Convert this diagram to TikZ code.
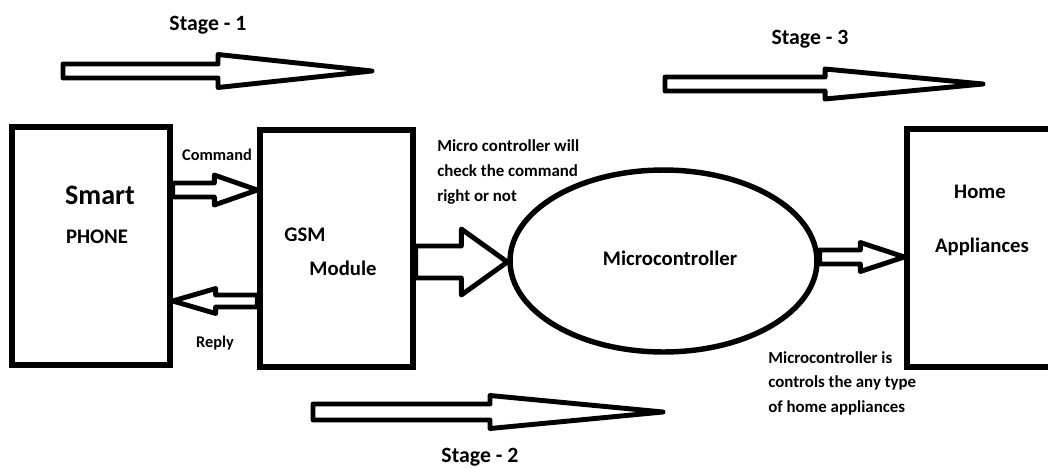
\documentclass[tikz,border=0pt]{standalone}
\usepackage{fontspec}
\setmainfont{Carlito}
\usetikzlibrary{calc,shapes.geometric}

\tikzset{
  blk/.style={draw, line width=3.1pt, inner sep=0pt},
  barrow/.style={draw, line width=2.8pt, line join=round, fill=white},
  txt/.style={font=\bfseries\fontsize{11.8}{13}\selectfont, inner sep=0pt},
  note/.style={font=\bfseries\fontsize{9.6}{14}\selectfont, inner sep=0pt, align=left},
}
% hollow block arrow: start, tip, shaft half, head half, head length
\newcommand{\blockarrow}[5]{%
  \draw[barrow] let \p1=#1, \p2=#2 in
    (\x1,{\y1+#3}) -- ({\x2-(#5)},{\y1+#3}) -- ({\x2-(#5)},{\y1+#4}) -- (\x2,\y1)
    -- ({\x2-(#5)},{\y1-#4}) -- ({\x2-(#5)},{\y1-#3}) -- (\x1,{\y1-#3}) -- cycle;}

\begin{document}
\begin{tikzpicture}[x=0.02cm,y=-0.02cm]
      \useasboundingbox (0,0) rectangle (1048,467);
      \clip (0,0) rectangle (1048,467);
      % blocks
      \node[blk, minimum width=3.16cm, minimum height=4.76cm] (phone) at (91,246) {};
      \node[blk, minimum width=3.06cm, minimum height=4.74cm] (gsm) at (336.5,248.5) {};
      \node[blk, minimum width=3.26cm, minimum height=4.76cm] (home) at (988.5,248) {};
      \node[blk, ellipse, minimum width=6.14cm, minimum height=3.64cm] (mcu) at (663.5,261) {};
      \node[txt] (mcutext) at (670,258) {Microcontroller};

      \node[txt, font=\bfseries\fontsize{16}{17}\selectfont] (smart) at (100,195) {Smart};
      \node[txt] (phonetext) at (97,237) {PHONE};
      \node[txt] (gsmtext) at (305,235) {GSM};
      \node[txt] (module) at (343,268) {Module};
      \node[txt] (hometext) at (980,192) {Home};
      \node[txt] (appl) at (982,247) {Appliances};

      % connectors
      \blockarrow{([yshift=1.12cm]phone.east)}{(gsm.west)}{0.14cm}{0.3cm}{0.86cm}
      \blockarrow{([yshift=-1.05cm]gsm.west)}{(phone.east)}{0.12cm}{0.25cm}{-0.86cm}
      \blockarrow{([yshift=-0.27cm]gsm.east)}{(mcu.west)}{0.32cm}{0.66cm}{0.92cm}
      \blockarrow{([yshift=0.08cm]mcu.east)}{(home.west)}{0.14cm}{0.29cm}{0.88cm}
      \node[txt, font=\bfseries\fontsize{9.3}{11}\selectfont] (cmd) at (217,155) {Command};
      \node[txt, font=\bfseries\fontsize{9.3}{11}\selectfont] (reply) at (215,343) {Reply};

      % stages
      \coordinate (s1a) at (63,71);  \coordinate (s1b) at (372,71);
      \coordinate (s2a) at (313,412); \coordinate (s2b) at (663,412);
      \coordinate (s3a) at (665,84);  \coordinate (s3b) at (983,84);
      \blockarrow{(s1a)}{(s1b)}{0.14cm}{0.33cm}{3.08cm}
      \blockarrow{(s2a)}{(s2b)}{0.16cm}{0.33cm}{3.46cm}
      \blockarrow{(s3a)}{(s3b)}{0.14cm}{0.3cm}{3.16cm}
      \node[txt, font=\bfseries\fontsize{12.4}{14}\selectfont] (stage1) at (208,25) {Stage - 1};
      \node[txt, font=\bfseries\fontsize{12.4}{14}\selectfont] (stage2) at (480,457) {Stage - 2};
      \node[txt, font=\bfseries\fontsize{12.4}{14}\selectfont] (stage3) at (810,39) {Stage - 3};

      % notes
      \node[note, anchor=west] (check) at (437,172) {Micro controller will\\check the command\\right or not};
      \node[note, anchor=west] (ctrl) at (768,383) {Microcontroller is\\controls the any type\\of home appliances};
\end{tikzpicture}
\end{document}
